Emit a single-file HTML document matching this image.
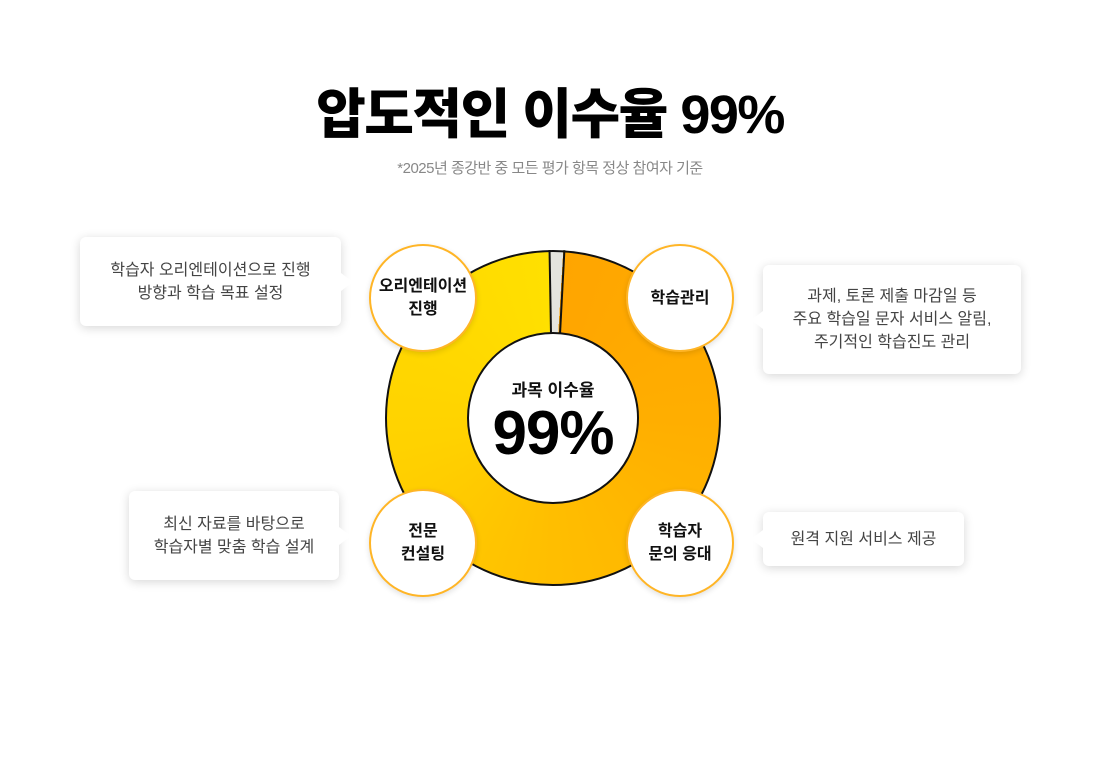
<!DOCTYPE html>
<html><head><meta charset="utf-8"><style>
body{margin:0;width:1100px;height:771px;background:#fff;position:relative;overflow:hidden;font-family:"Liberation Sans","Noto Sans CJK KR",sans-serif;}
.abs{position:absolute}
h1{position:absolute;left:0;width:1100px;top:77px;margin:0;text-align:center;font-size:54px;font-weight:900;letter-spacing:-1.5px;color:#000;line-height:76px}
.sub{top:157px;left:0;width:1100px;text-align:center;font-size:15px;color:#888;letter-spacing:-0.5px}
.ring{left:385px;top:250px;width:332px;height:332px;border-radius:50%;border:2px solid #111;
background:conic-gradient(from 0deg,#e4e4de 0 3.5deg,#FFA500 3.5deg,#FFAE00 90deg,#FFBE00 180deg,#FFD200 260deg,#FFE000 358.5deg,#e4e4de 358.5deg);}
.inner{left:467px;top:332px;width:168px;height:168px;border-radius:50%;border:2px solid #111;background:#fff;text-align:center}
.c{width:104px;height:104px;border-radius:50%;background:#fff;border:2px solid #FFB526;display:flex;align-items:center;justify-content:center;text-align:center;font-weight:bold;font-size:16px;line-height:23px;color:#111;box-shadow:0 2px 6px rgba(0,0,0,.12)}
.box{background:#fff;border-radius:6px;box-shadow:0 2px 10px rgba(0,0,0,.16);display:flex;align-items:center;justify-content:center;text-align:center;font-size:16px;line-height:23px;color:#444}
.tl::after,.tr::after{content:"";position:absolute;top:50%;margin-top:-9px;width:0;height:0;border-top:9px solid transparent;border-bottom:9px solid transparent}
.tl::after{right:-12px;border-left:12px solid #fff}
.tr::after{left:-12px;border-right:12px solid #fff}
</style></head><body>
<h1>압도적인 이수율 99%</h1>
<div class="abs sub">*2025년 종강반 중 모든 평가 항목 정상 참여자 기준</div>
<div class="abs ring"></div>
<div class="abs" style="left:550px;top:250px;width:2px;height:84px;background:#111;transform:rotate(-1deg);transform-origin:bottom"></div>
<div class="abs" style="left:559px;top:250px;width:2px;height:84px;background:#111;transform:rotate(3deg);transform-origin:bottom left"></div>
<div class="abs inner">
<div style="margin-top:42px;font-size:17px;font-weight:bold;color:#111">과목 이수율</div>
<div style="font-size:62px;font-weight:900;line-height:66px;color:#000;letter-spacing:-1px">99%</div>
</div>
<div class="abs c" style="left:369px;top:244px">오리엔테이션<br>진행</div>
<div class="abs c" style="left:626px;top:244px">학습관리</div>
<div class="abs c" style="left:369px;top:489px">전문<br>컨설팅</div>
<div class="abs c" style="left:626px;top:489px">학습자<br>문의 응대</div>
<div class="abs box tl" style="left:80px;top:237px;width:261px;height:89px">학습자 오리엔테이션으로 진행<br>방향과 학습 목표 설정</div>
<div class="abs box tr" style="left:763px;top:265px;width:258px;height:109px">과제, 토론 제출 마감일 등<br>주요 학습일 문자 서비스 알림,<br>주기적인 학습진도 관리</div>
<div class="abs box tl" style="left:129px;top:491px;width:210px;height:89px">최신 자료를 바탕으로<br>학습자별 맞춤 학습 설계</div>
<div class="abs box tr" style="left:763px;top:512px;width:201px;height:54px">원격 지원 서비스 제공</div>
</body></html>
